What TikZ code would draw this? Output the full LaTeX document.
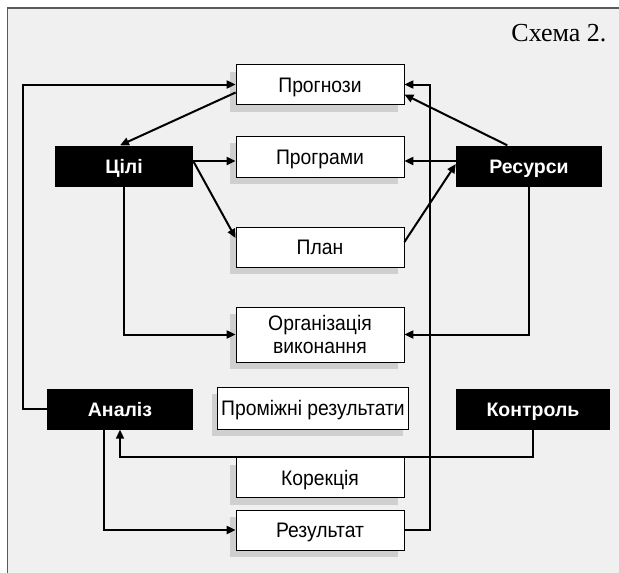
\documentclass[tikz,border=0pt]{standalone}
\usepackage{fontspec}
\setmainfont{Liberation Serif}
\newfontfamily\labfont[FakeStretch=0.92]{Liberation Sans}
\newfontfamily\headfont{Liberation Sans}
\usetikzlibrary{arrows.meta,calc}
\definecolor{panel}{HTML}{F0F0F0}
\definecolor{framegray}{HTML}{5A5A5A}
\definecolor{shadowgray}{HTML}{CFCFCF}
\begin{document}
\begin{tikzpicture}[x=1pt,y=-1pt,
  whitebox/.style={draw=black,line width=0.8pt,fill=white,
    minimum width=168pt,minimum height=40pt,inner sep=0pt,
    font=\labfont\fontsize{21}{23}\selectfont,align=center,
    preaction={fill=shadowgray,transform canvas={xshift=-6pt,yshift=-7pt}}},
  oneline/.style={text height=15pt,text depth=0pt},
  blackbox/.style={fill=black,text=white,inner sep=0pt,
    text height=14pt,text depth=0pt,
    minimum height=41pt,font=\headfont\bfseries\fontsize{19.5}{22}\selectfont},
  arr/.style={line width=2pt,-{Triangle[length=9pt,width=8pt]}}]
\useasboundingbox (0,0) rectangle (619,573);
% panel and its frame
\fill[white] (0,0) rectangle (619,573);
\fill[panel] (7.5,8) rectangle (619,573);
\draw[framegray,line width=1.5pt] (7.5,573) -- (7.5,8) -- (619,8);
\node[anchor=east,font=\fontsize{26}{28}\selectfont] (title) at (610,33) {Схема 2.};
% boxes
\node[whitebox,oneline] (prog)  at (320,84.5)  {Прогнози};
\node[whitebox,oneline,minimum height=41pt] (progr) at (320,156.5) {Програми};
\node[whitebox,oneline] (plan)  at (320,247)   {План};
\node[whitebox,minimum height=55pt] (org) at (320,334.5) {Організація\\виконання};
\node[whitebox,oneline,minimum width=191pt,minimum height=42pt] (prom) at (313,408) {Проміжні результати};
\node[whitebox,oneline] (kor)   at (320,477.5) {Корекція};
\node[whitebox,oneline] (rez)   at (320,530)   {Результат};
\node[blackbox,minimum width=138pt] (cili)  at (124,166)   {Цілі};
\node[blackbox,minimum width=146pt] (res)   at (529,166)   {Ресурси};
\node[blackbox,minimum width=146pt] (anal)  at (120,409)   {Аналіз};
\node[blackbox,minimum width=154pt] (kontr) at (533,409)   {Контроль};
% connectors
\coordinate (cy) at (0,161);
\coordinate (ky) at (0,457);
\draw[arr] (anal.west) -- ++(-24,0) |- (prog.west);
\draw[arr] ($(prog.west)+(0,8)$) -- ($(cili.north)+(-4,0)$);
\draw[arr] (cili.east |- cy) -- (progr.west |- cy);
\draw[arr] (cili.east |- cy) -- ($(plan.west)+(0,-9)$);
\draw[arr] (cili.south) |- (org.west);
\draw[arr] ($(res.north west)+(51.5,0)$) -- ($(prog.east)+(0,10)$);
\draw[arr] (res.west |- cy) -- (progr.east |- cy);
\draw[arr] ($(plan.east)+(0,-5)$) -- ($(res.west)+(0,-2)$);
\draw[arr] (res.south) |- (org.east);
\draw[arr] (rez.east) -- ++(26,0) |- (prog.east);
\draw[arr] (kontr.south) -- (kontr.south |- ky) -| (anal.south);
\draw[arr] ($(anal.south)+(-16.5,0)$) |- (rez.west);
\end{tikzpicture}
\end{document}
